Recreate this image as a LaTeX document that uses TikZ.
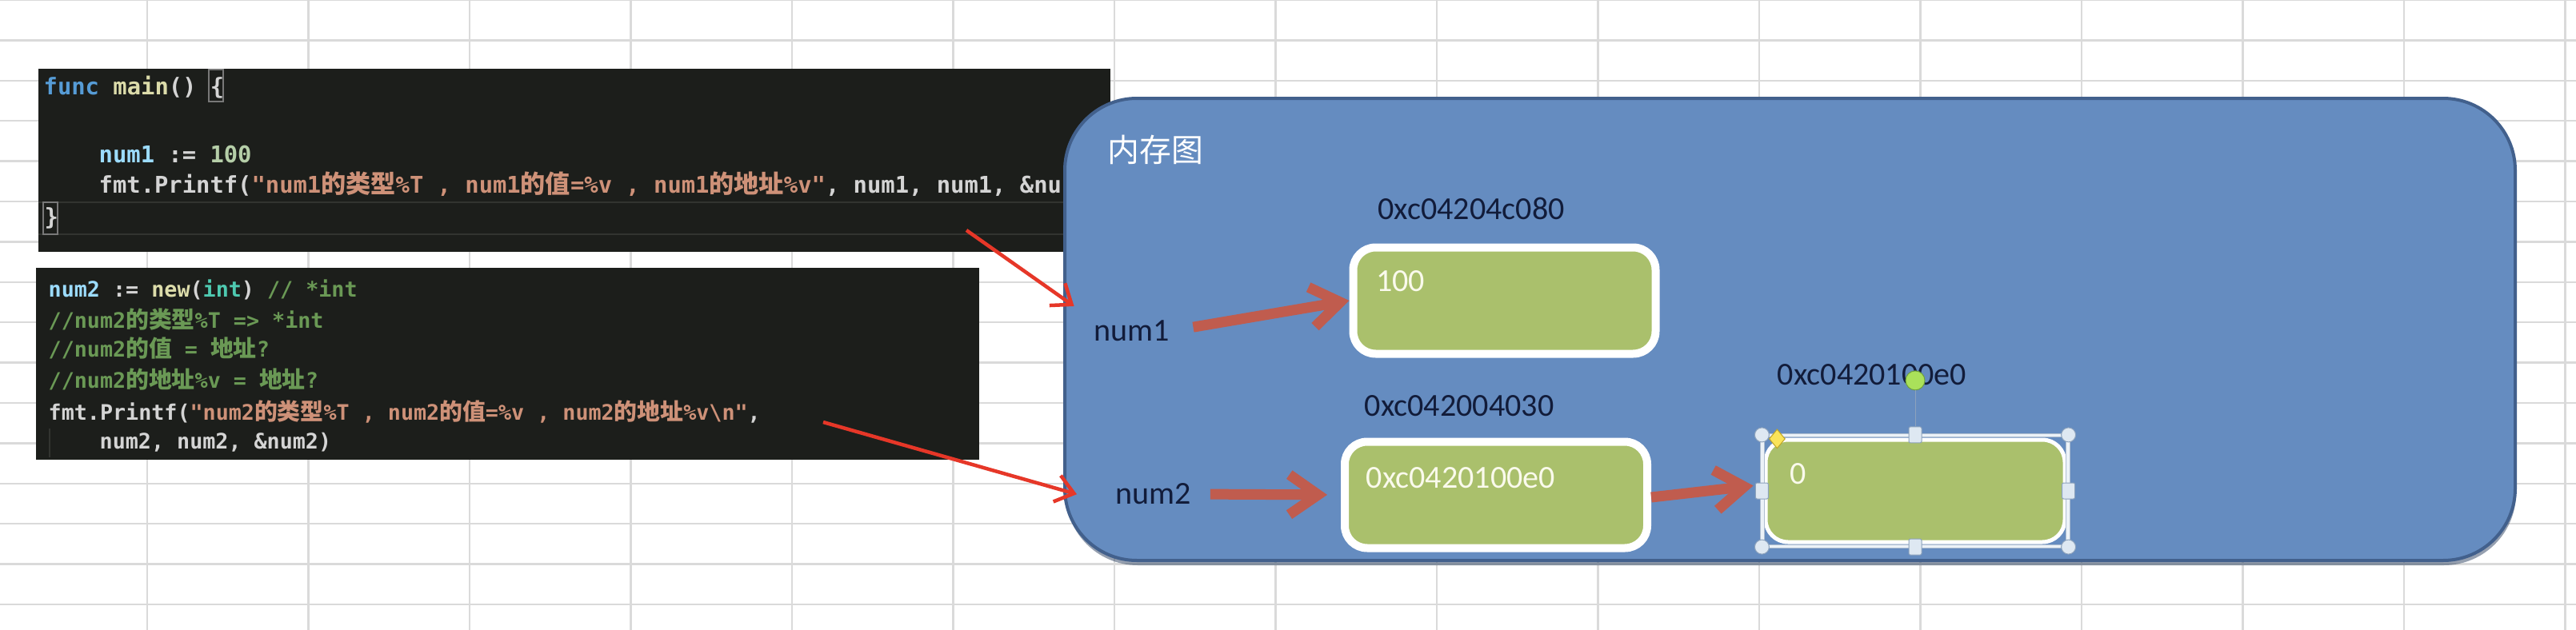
\documentclass[tikz,border=0pt]{standalone}
\usepackage{fontspec}
\setmonofont{DejaVu Sans Mono}
\newfontfamily\cjkfont[Scale=1.08]{Noto Sans CJK SC}
\newfontfamily\labelfont{Carlito}
\newcommand{\zh}[1]{{\cjkfont #1}}
\usepackage{tikz}
\usetikzlibrary{positioning}
\usetikzlibrary{arrows.meta}
\usetikzlibrary{shapes.geometric}
\usetikzlibrary{shadows}

\definecolor{gridgray}{RGB}{218,218,218}
\definecolor{codebg}{RGB}{28,30,27}
\definecolor{curline}{RGB}{50,52,48}
\definecolor{codefg}{RGB}{212,212,212}
\definecolor{kwblue}{RGB}{86,156,214}
\definecolor{fnyellow}{RGB}{220,220,170}
\definecolor{varblue}{RGB}{156,220,254}
\definecolor{numgreen}{RGB}{181,206,168}
\definecolor{strorange}{RGB}{206,145,120}
\definecolor{typeteal}{RGB}{78,201,176}
\definecolor{commentgreen}{RGB}{106,153,85}
\definecolor{memblue}{RGB}{101,140,192}
\definecolor{memedge}{RGB}{66,96,140}
\definecolor{cellgreen}{RGB}{170,192,108}
\definecolor{arrowred}{RGB}{192,92,78}
\definecolor{ptrred}{RGB}{230,55,40}
\definecolor{labelnavy}{RGB}{18,28,58}
\definecolor{handlefill}{RGB}{222,232,242}
\definecolor{handleedge}{RGB}{140,162,188}

\begin{document}
\begin{tikzpicture}[
  gridline/.style={gridgray, line width=0.025cm},
  codeline/.style={anchor=west, inner sep=0pt, text=codefg, text height=0.7em, text depth=0.2em, font=\ttfamily\bfseries\fontsize{8.2}{10}\selectfont},
  smallcode/.style={codeline, font=\ttfamily\bfseries\fontsize{7.6}{9}\selectfont},
  bracketbox/.style={draw={rgb,255:red,120;green,120;blue,120}, line width=0.02cm},
  membox/.style={draw=memedge, line width=0.04cm, fill=memblue, rounded corners=0.9cm, minimum width=18.13cm, minimum height=5.78cm, drop shadow={shadow xshift=0.01cm, shadow yshift=-0.06cm, fill=memedge!70!black, opacity=0.5}},
  cell/.style={draw=white, line width=0.1cm, fill=cellgreen, rounded corners=0.28cm, minimum width=3.78cm, minimum height=1.33cm, inner sep=0pt},
  titletext/.style={inner sep=0pt, text=white, font=\cjkfont\fontsize{10.5}{12}\selectfont},
  addrtext/.style={inner sep=0pt, text=labelnavy, font=\labelfont\fontsize{11.4}{13}\selectfont},
  vartext/.style={addrtext},
  valtext/.style={inner sep=0pt, anchor=west, text={rgb,255:red,250;green,250;blue,236}, font=\labelfont\fontsize{11.4}{13}\selectfont},
  fatarrow/.style={arrowred, line width=0.13cm, -{Straight Barb[length=0.36cm, width=0.5cm]}},
  redarrow/.style={ptrred, line width=0.045cm, -{Straight Barb[length=0.22cm, width=0.34cm]}},
  selframe/.style={draw=handleedge!70!white, line width=0.012cm, double={rgb,255:red,236;green,242;blue,248}, double distance=0.035cm, minimum width=3.82cm, minimum height=1.39cm, inner sep=0pt},
  cornerhandle/.style={circle, draw=handleedge, fill=handlefill, line width=0.01cm, minimum size=0.18cm, inner sep=0pt},
  sidehandle/.style={rectangle, rounded corners=0.02cm, draw=handleedge, fill=handlefill, line width=0.01cm, minimum width=0.16cm, minimum height=0.2cm, inner sep=0pt},
  rothandle/.style={circle, draw={rgb,255:red,110;green,160;blue,60}, fill={rgb,255:red,170;green,225;blue,90}, line width=0.01cm, minimum size=0.24cm, inner sep=0pt},
  adjhandle/.style={diamond, aspect=0.85, draw={rgb,255:red,190;green,165;blue,40}, fill={rgb,255:red,250;green,228;blue,90}, line width=0.01cm, minimum width=0.2cm, minimum height=0.24cm, inner sep=0pt},
  handleline/.style={handleedge, line width=0.01cm}
]
\useasboundingbox (0,0) rectangle (32.2,-7.88);
% spreadsheet grid
\fill[white] (0,0) rectangle (32.2,-7.88);
\foreach \i in {0,...,15} \draw[gridline] (1.84+2.015*\i,0) -- ++(0,-7.88);
\foreach \j in {0,...,15} \draw[gridline] (0,-0.504*\j) -- ++(32.2,0);

% first code snippet
\fill[codebg] (0.48,-0.86) rectangle (13.88,-3.15);
\draw[curline, line width=0.02cm] (0.48,-2.53) -- (13.88,-2.53);
\draw[curline, line width=0.02cm] (0.48,-2.93) -- (13.88,-2.93);
\draw[bracketbox] (2.61,-0.87) rectangle (2.79,-1.27);
\draw[bracketbox] (0.54,-2.53) rectangle (0.72,-2.93);
\node[codeline] (CodeMain) at (0.54,-1.10) {{\color{kwblue}func} {\color{fnyellow}main}() \{};
\node[codeline] (CodeNum1) at (1.23,-1.95) {{\color{varblue}num1} := {\color{numgreen}100}};
\node[codeline] (CodePrint1) at (1.23,-2.33) {fmt.Printf({\color{strorange}"num1\zh{的类型}\%T , num1\zh{的值}=\%v , num1\zh{的地址}\%v"}, num1, num1, \&nu};
\node[codeline] (CodeClose) at (0.55,-2.73) {\}};

% second code snippet
\fill[codebg] (0.45,-3.35) rectangle (12.24,-5.75);
\draw[curline, line width=0.02cm] (0.62,-5.36) -- (0.62,-5.72);
\node[smallcode] (CodeNew) at (0.60,-3.63) {{\color{varblue}num2} := {\color{fnyellow}new}({\color{typeteal}int}) {\color{commentgreen}// *int}};
\node[smallcode, text=commentgreen] (CodeType) at (0.60,-4.02) {//num2\zh{的类型}\%T => *int};
\node[smallcode, text=commentgreen] (CodeValue) at (0.60,-4.38) {//num2\zh{的值} = \zh{地址}?};
\node[smallcode, text=commentgreen] (CodeAddr) at (0.60,-4.77) {//num2\zh{的地址}\%v = \zh{地址}?};
\node[smallcode] (CodePrint2) at (0.60,-5.17) {fmt.Printf({\color{strorange}"num2\zh{的类型}\%T , num2\zh{的值}=\%v , num2\zh{的地址}\%v\textbackslash n"},};
\node[smallcode] (CodeArgs) at (1.24,-5.53) {num2, num2, \&num2)};

% memory diagram
\node[membox] (MemBox) at (22.375,-4.12) {};
\node[titletext, anchor=west] (MemTitle) at ([shift={(0.55,-0.66)}]MemBox.north west) {内存图};

\node[cell] (Cell1) at (18.805,-3.76) {};
\node[cell] (Cell2) at (18.70,-6.19) {};
\node[cell, line width=0.05cm, minimum width=3.74cm, minimum height=1.28cm] (Cell3) at (23.94,-6.14) {};
\node[valtext] (Val1) at ([shift={(0.33,-0.47)}]Cell1.north west) {100};
\node[valtext] (Val2) at ([shift={(0.31,-0.50)}]Cell2.north west) {0xc0420100e0};
\node[valtext] (Val3) at ([shift={(0.32,-0.45)}]Cell3.north west) {0};

\node[addrtext] (Addr1) at (18.39,-2.61) {0xc04204c080};
\node[addrtext] (Addr2) at (18.24,-5.08) {0xc042004030};
\node[addrtext] (Addr3) at (23.40,-4.69) {0xc0420100e0};

\node[vartext] (Num1) at (14.15,-4.14) {num1};
\node[vartext] (Num2) at (14.42,-6.18) {num2};

\draw[fatarrow, shorten <=0.29cm] (Num1.east) -- (Cell1.west);
\draw[fatarrow, shorten <=0.23cm, shorten >=0.17cm] (Num2.east) -- (Cell2.west);
\draw[fatarrow, shorten >=0.13cm] ([yshift=-0.03cm]Cell2.east) -- ([yshift=0.08cm]Cell3.west);

% selection handles of the last cell
\node[selframe] (Sel) at (Cell3) {};
\foreach \a/\n in {north west/NW, north east/NE, south west/SW, south east/SE}
  \node[cornerhandle] (Handle\n) at (Sel.\a) {};
\foreach \a/\n in {north/N, south/S, east/E, west/W}
  \node[sidehandle] (Handle\n) at (Sel.\a) {};
\node[rothandle] (Rotate) at ([yshift=0.68cm]Sel.north) {};
\draw[handleline] (Rotate) -- (HandleN);
\node[adjhandle] (Adjust) at ([shift={(0.19,-0.05)}]Sel.north west) {};

% pointers from the code
\coordinate (Ptr1) at (12.08,-2.88);
\coordinate (Ptr2) at (10.29,-5.28);
\draw[redarrow, shorten >=0.3cm] (Ptr1) -- (Num1.north west);
\draw[redarrow, shorten >=0.5cm] (Ptr2) -- (Num2.south west);
\end{tikzpicture}
\end{document}
